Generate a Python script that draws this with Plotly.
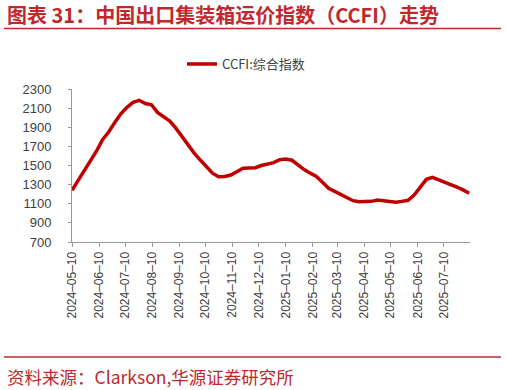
import plotly.graph_objects as go
import pandas as pd

# Weekly CCFI composite index, starting 2024-05-10
start_date = "2024-05-10"
ccfi_values = [
    1240, 1345, 1440, 1539, 1649, 1770, 1850, 1949, 2040, 2108,
    2160, 2182, 2148, 2135, 2055, 2010, 1965, 1890, 1800, 1715,
    1630, 1557, 1483, 1420, 1383, 1385, 1400, 1440, 1471, 1474,
    1477, 1500, 1512, 1530, 1560, 1568, 1555, 1505, 1457, 1420,
    1386, 1325, 1261, 1229, 1197, 1165, 1132, 1121, 1121, 1125,
    1138, 1130, 1123, 1115, 1125, 1136, 1190, 1280, 1355, 1376,
    1352, 1328, 1305, 1275, 1245, 1209,
]
dates = pd.date_range(start_date, periods=len(ccfi_values), freq="7D")

tick_dates = ["2024-05-10", "2024-06-10", "2024-07-10", "2024-08-10", "2024-09-10",
              "2024-10-10", "2024-11-10", "2024-12-10", "2025-01-10", "2025-02-10",
              "2025-03-10", "2025-04-10", "2025-05-10", "2025-06-10", "2025-07-10"]
tick_labels = [d.replace("-", "–") for d in tick_dates]
y_ticks = [700, 900, 1100, 1300, 1500, 1700, 1900, 2100, 2300]

series_name = "CCFI:综合指数"
title_text = "图表 31：中国出口集装箱运价指数（CCFI）走势"
source_text = "资料来源：Clarkson,华源证券研究所"

W, H = 506, 390
L, R, T, B = 72, 470, 89, 242


def px_x(p):
    return (p - L) / (R - L)


def px_y(p):
    return (B - p) / (B - T)


fig = go.Figure()
fig.add_trace(go.Scatter(
    x=dates, y=ccfi_values, mode="lines", name=series_name,
    line=dict(color="#C00000", width=3.5, shape="linear"),
))

red = "#C0282E"
fig.update_layout(
    width=W, height=H,
    margin=dict(l=L, r=W - R, t=T, b=H - B, pad=0, autoexpand=False),
    paper_bgcolor="white", plot_bgcolor="white",
    font=dict(family="Liberation Sans, Arial, sans-serif", color="#333333", size=12),
    showlegend=True,
    legend=dict(orientation="h", x=px_x(182), y=px_y(49), xanchor="left", yanchor="top",
                font=dict(family="Noto Sans CJK SC", size=13, color="#404040"),
                bgcolor="rgba(0,0,0,0)", itemwidth=30),
    xaxis=dict(
        type="date",
        range=[dates[0], dates[-1] + pd.Timedelta(days=1)],
        tickvals=tick_dates, ticktext=tick_labels,
        tickangle=-90, ticks="outside", ticklen=4, tickcolor="#999999",
        showline=True, linecolor="#999999", linewidth=1,
        showgrid=False, zeroline=False,
        tickfont=dict(size=12, color="#404040"),
    ),
    yaxis=dict(
        range=[700, 2300], tickvals=y_ticks,
        ticks="outside", ticklen=3, tickcolor="#999999",
        ticklabelstandoff=14,
        showline=True, linecolor="#999999", linewidth=1,
        showgrid=False, zeroline=False,
        tickfont=dict(size=13, color="#404040"),
    ),
)

# Title
fig.add_annotation(text="<b>" + title_text + "</b>", xref="paper", yref="paper",
                   x=px_x(5), y=px_y(14), xanchor="left", yanchor="middle",
                   showarrow=False, font=dict(family="Noto Sans CJK SC", size=20, color=red))
# Title rule
fig.add_shape(type="line", xref="paper", yref="paper",
              x0=px_x(4), x1=px_x(501), y0=px_y(28.5), y1=px_y(28.5),
              line=dict(color=red, width=1.5))
# Bottom rule
fig.add_shape(type="line", xref="paper", yref="paper",
              x0=px_x(4), x1=px_x(501), y0=px_y(357), y1=px_y(357),
              line=dict(color=red, width=1.5))
# Source
fig.add_annotation(text=source_text, xref="paper", yref="paper",
                   x=px_x(5), y=px_y(376), xanchor="left", yanchor="middle",
                   showarrow=False, font=dict(family="Noto Sans CJK SC", size=17.5, color=red))

fig.write_html("out.html",
               config={"displayModeBar": False},
               post_script="document.body.style.margin='0';document.body.style.overflow='hidden';")
